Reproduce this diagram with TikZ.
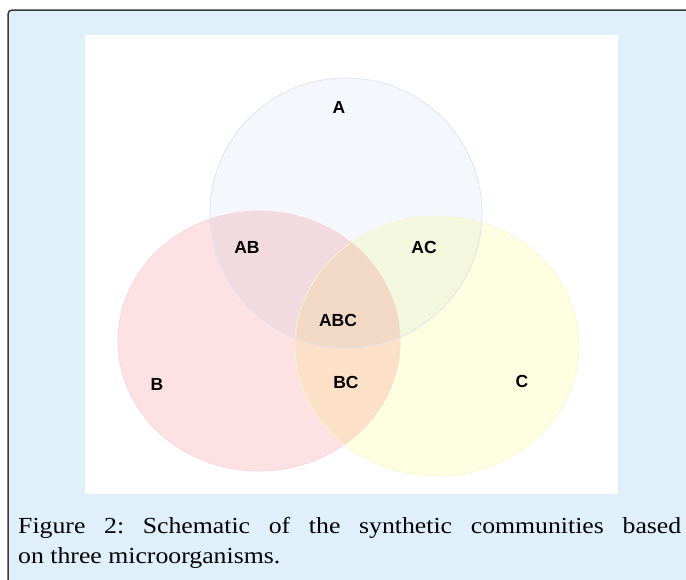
\documentclass[tikz,border=0pt]{standalone}
\usepackage{fontspec}
\setmainfont{Liberation Serif}[FakeStretch=1.12]
\newfontfamily\setfont{Liberation Sans}
\frenchspacing
\definecolor{boxblue}{HTML}{DFF0FB}
\definecolor{boxline}{HTML}{3A3A3A}
\definecolor{afill}{HTML}{F4F8FD}
\definecolor{adraw}{HTML}{DCE3F0}
\definecolor{bfill}{HTML}{FDE1E3}
\definecolor{bdraw}{HTML}{F8D6D9}
\definecolor{cfill}{HTML}{FEFEE0}
\definecolor{cdraw}{HTML}{F8F6D2}

\begin{document}
\begin{tikzpicture}[x=1pt,y=-1pt,
  setlab/.style={font=\setfont\bfseries\fontsize{17.5}{17.5}\selectfont, inner sep=0pt}]
  \useasboundingbox (0,0) rectangle (686,579);
  % frame and white panel
  \begin{scope}
    \clip (0,0) rectangle (686,579);
    \draw[line width=1.5pt, draw=boxline, fill=boxblue, rounded corners=4pt]
      (8,10) rectangle (720,620);
  \end{scope}
  \fill[white] (85,35) rectangle (618,494);
  % the three sets
  \begin{scope}[blend group=multiply]
    \fill[cfill] (437,346) ellipse [x radius=142, y radius=130];
    \fill[bfill] (259,341) ellipse [x radius=141, y radius=130];
    \fill[afill] (346,213) ellipse [x radius=136, y radius=135];
  \end{scope}
  \begin{scope}[line width=0.7pt]
    \draw[cdraw] (437,346) ellipse [x radius=142, y radius=130];
    \draw[bdraw] (259,341) ellipse [x radius=141, y radius=130];
    \draw[adraw] (346,213) ellipse [x radius=136, y radius=135];
  \end{scope}
  \node[setlab] (a) at (339,107) {A};
  \node[setlab] (ab) at (247,247) {AB};
  \node[setlab] (ac) at (424,247) {AC};
  \node[setlab] (abc) at (338,320) {ABC};
  \node[setlab] (b) at (157,384) {B};
  \node[setlab] (bc) at (346,382) {BC};
  \node[setlab] (c) at (522,381) {C};
  % caption
  \node[anchor=north west, text width=663pt, align=justify, inner sep=0pt,
    font=\fontsize{23}{30}\selectfont] (caption) at (18,517)
    {Figure 2: Schematic of the synthetic communities based\linebreak on three microorganisms.};
\end{tikzpicture}
\end{document}
